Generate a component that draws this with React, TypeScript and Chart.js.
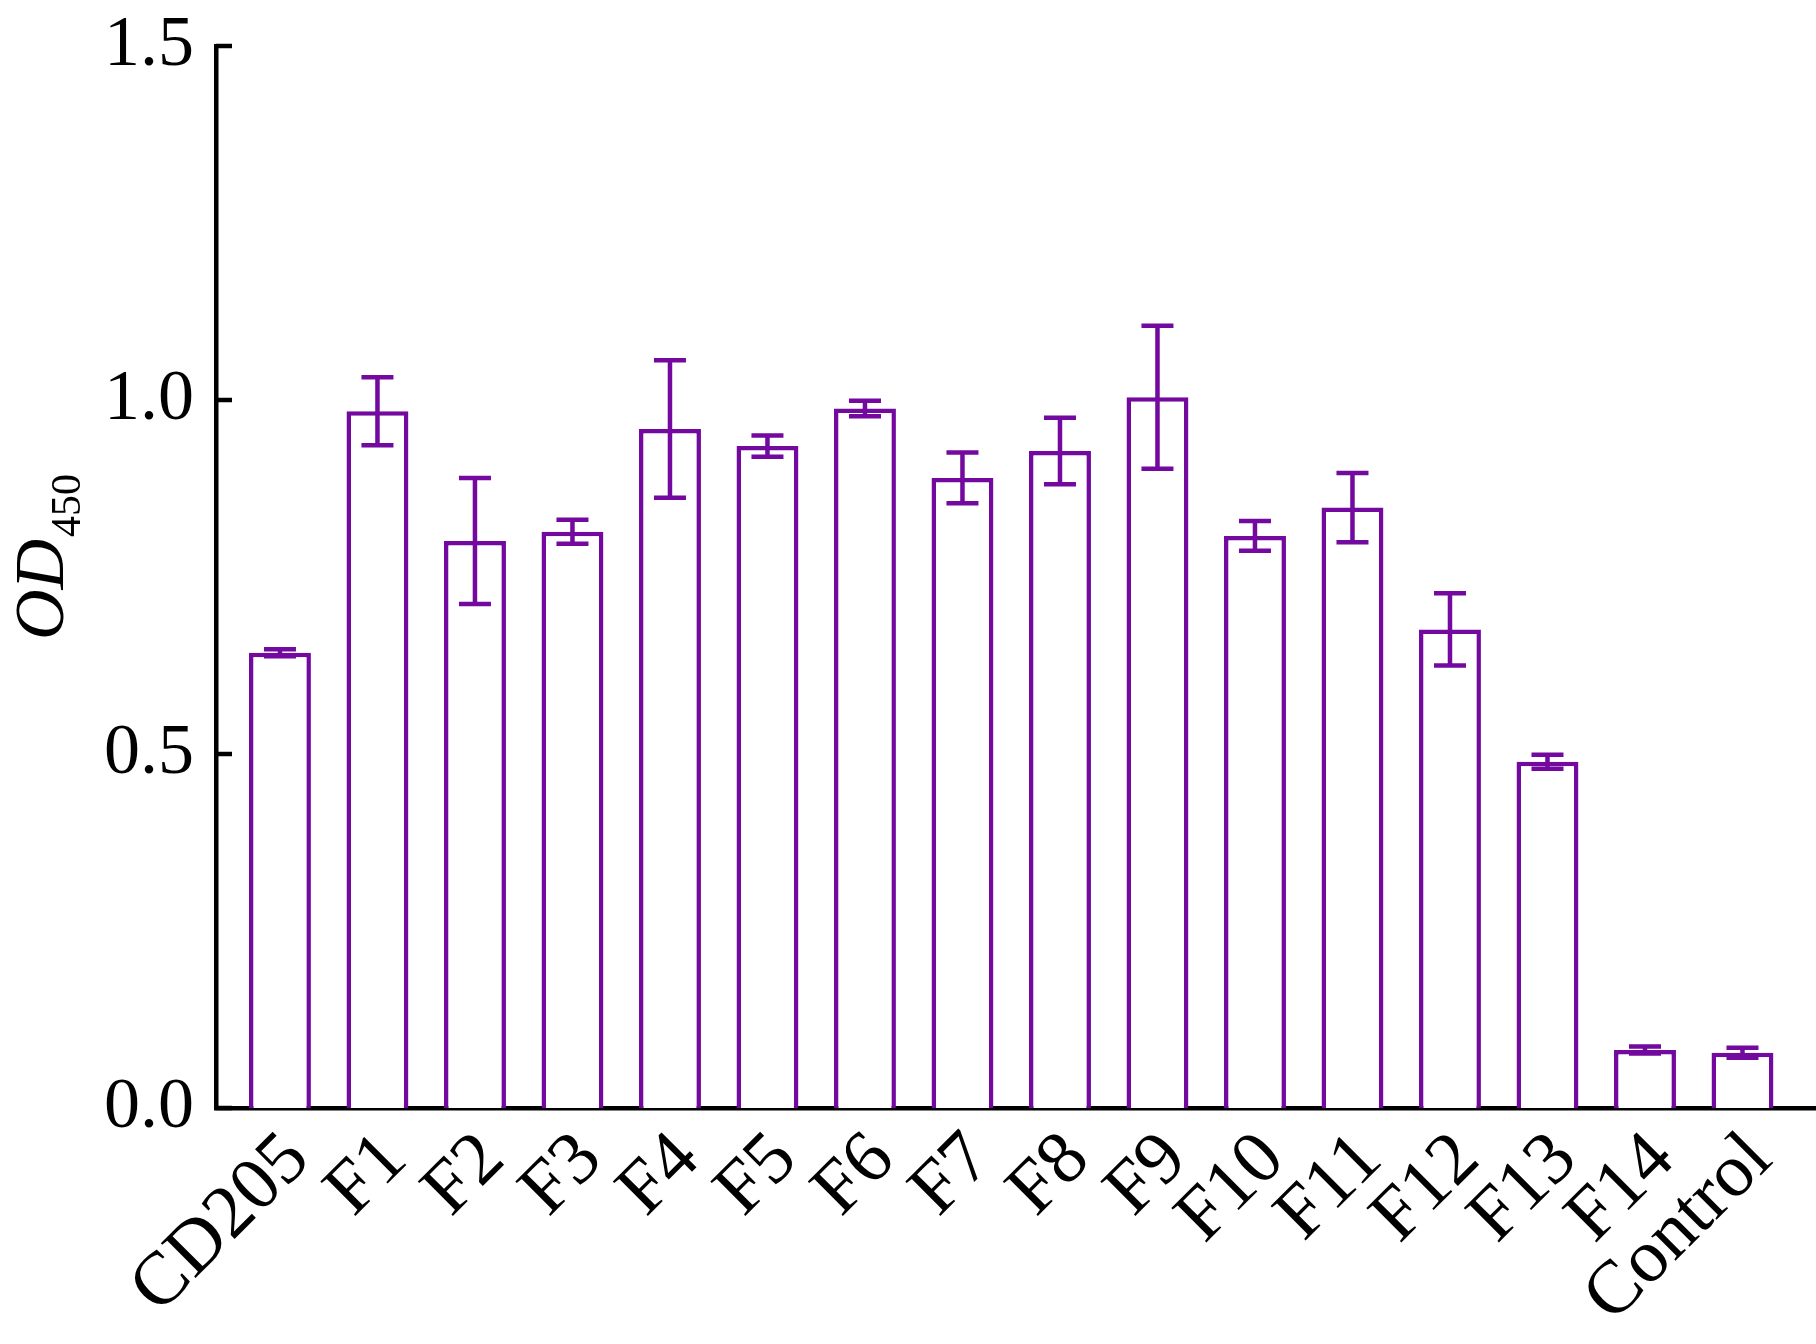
import { useEffect, useRef } from 'react'
import { Chart, registerables } from 'chart.js'

Chart.register(...registerables)

// category names, mean OD450 and error (±)
const groups = ['CD205', 'F1', 'F2', 'F3', 'F4', 'F5', 'F6', 'F7', 'F8', 'F9', 'F10', 'F11', 'F12', 'F13', 'F14', 'Control']
const means = [0.643, 0.984, 0.801, 0.814, 0.959, 0.935, 0.988, 0.89, 0.928, 1.004, 0.808, 0.848, 0.676, 0.489, 0.082, 0.078]
const errors = [0.005, 0.048, 0.089, 0.017, 0.097, 0.015, 0.011, 0.036, 0.047, 0.101, 0.021, 0.049, 0.051, 0.01, 0.005, 0.007]
const yTicks = [0, 0.5, 1.0, 1.5]

const PURPLE = '#73099e'
const SERIF = '"Liberation Serif", "Times New Roman", serif'

export default function App() {
  const canvasRef = useRef<HTMLCanvasElement>(null)
  const chartRef = useRef<Chart | null>(null)

  useEffect(() => {
    document.body.style.margin = '0'
    document.body.style.overflow = 'hidden'
    if (!canvasRef.current) return
    if (chartRef.current) chartRef.current.destroy()
    const ctx = canvasRef.current.getContext('2d')
    if (!ctx) return

    const extras = {
      id: 'extras',
      afterDatasetsDraw(chart: any) {
        const c = chart.ctx
        const xs = chart.scales.x
        const ys = chart.scales.y
        c.save()
        // error bars
        c.strokeStyle = PURPLE
        c.lineWidth = 4.5
        means.forEach((m, i) => {
          const x = xs.getPixelForValue(i)
          const t = ys.getPixelForValue(m + errors[i])
          const b = ys.getPixelForValue(m - errors[i])
          c.beginPath()
          c.moveTo(x, t)
          c.lineTo(x, b)
          c.moveTo(x - 16, t)
          c.lineTo(x + 16, t)
          c.moveTo(x - 16, b)
          c.lineTo(x + 16, b)
          c.stroke()
        })
        // inward y ticks
        c.strokeStyle = '#000'
        const left = chart.chartArea.left
        yTicks.forEach((v) => {
          const y = ys.getPixelForValue(v)
          c.beginPath()
          c.moveTo(left, y)
          c.lineTo(left + 16, y)
          c.stroke()
        })
        // y-axis title: OD450
        c.fillStyle = '#000'
        c.translate(63, 640)
        c.rotate(-Math.PI / 2)
        c.textBaseline = 'alphabetic'
        c.textAlign = 'left'
        c.font = `italic 70px ${SERIF}`
        c.fillText('OD', 0, 0)
        const w = c.measureText('OD').width
        c.font = `42px ${SERIF}`
        c.fillText('450', w + 2, 17)
        c.restore()
      },
    }

    chartRef.current = new Chart(ctx, {
      type: 'bar',
      data: {
        datasets: [
          {
            label: 'OD450',
            data: means.map((m, i) => ({ x: i, y: m })),
            backgroundColor: '#ffffff',
            borderColor: PURPLE,
            borderWidth: 4.5,
            categoryPercentage: 1,
            barPercentage: 0.635,
          },
        ],
      },
      options: {
        animation: false,
        responsive: true,
        maintainAspectRatio: false,
        devicePixelRatio: 1,
        layout: { padding: { top: 46, right: 0, left: 0, bottom: 0 } },
        plugins: {
          legend: { display: false },
          tooltip: { enabled: false },
        },
        scales: {
          x: {
            type: 'linear',
            offset: false,
            min: -0.656,
            max: 15.754,
            afterBuildTicks: (scale: any) => {
              scale.ticks = groups.map((_, i) => ({ value: i }))
            },
            afterFit: (scale: any) => {
              scale.height = 236
              scale.paddingLeft = 0
              scale.paddingRight = 0
            },
            grid: { display: false },
            border: { display: true, color: '#000', width: 4.5 },
            ticks: {
              autoSkip: false,
              minRotation: 45,
              maxRotation: 45,
              labelOffset: 18,
              padding: 0,
              color: '#000',
              font: { family: SERIF, size: 75 },
              callback: (v: any) => groups[v] ?? '',
            },
          },
          y: {
            min: 0,
            max: 1.5,
            afterBuildTicks: (scale: any) => {
              scale.ticks = yTicks.map((v) => ({ value: v }))
            },
            afterFit: (scale: any) => {
              scale.width = 216
              scale.paddingTop = 0
              scale.paddingBottom = 0
            },
            grid: { display: false },
            border: { display: true, color: '#000', width: 4.5 },
            ticks: {
              padding: 14,
              color: '#000',
              font: { family: SERIF, size: 72 },
              callback: (v: any) => Number(v).toFixed(1),
            },
          },
        },
      },
      plugins: [extras],
    })

    return () => {
      if (chartRef.current) {
        chartRef.current.destroy()
        chartRef.current = null
      }
    }
  }, [])

  return (
    <div style={{ width: '1816px', height: '1344px', background: '#fff' }}>
      <canvas ref={canvasRef}></canvas>
    </div>
  )
}
